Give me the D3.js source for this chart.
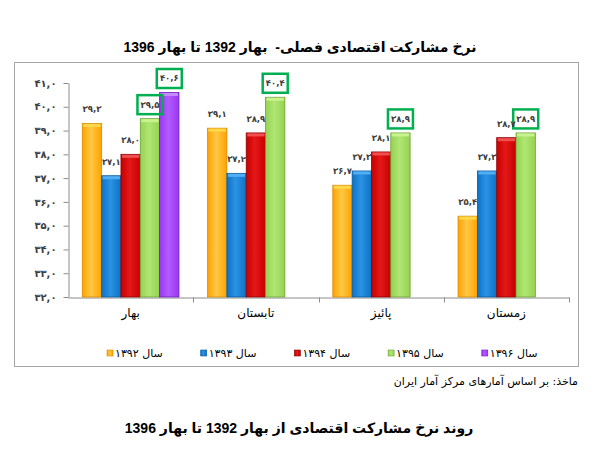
<!DOCTYPE html>
<html>
<head>
<meta charset="utf-8">
<script src="https://cdn.jsdelivr.net/npm/d3@7/dist/d3.min.js"></script>
<style>
  body { margin: 0; background: #fff; }
  svg { display: block; font-family: "Liberation Sans", "DejaVu Sans", sans-serif; }
</style>
</head>
<body>
<div id="chart"></div>
<script>
// data
const categories = ["بهار", "تابستان", "پائیز", "زمستان"];
const seriesNames = ["سال ۱۳۹۲", "سال ۱۳۹۳", "سال ۱۳۹۴", "سال ۱۳۹۵", "سال ۱۳۹۶"];
const values1392 = [39.3, 39.1, 36.7, 35.4];
const values1393 = [37.1, 37.2, 37.3, 37.3];
const values1394 = [38.0, 38.9, 38.1, 38.7];
const values1395 = [39.5, 40.4, 38.9, 38.9];
const values1396 = [40.6, null, null, null];
const yTicks = [32, 33, 34, 35, 36, 37, 38, 39, 40, 41];
const boxedSeries = ["سال ۱۳۹۵", "سال ۱۳۹۶"];

const title = "نرخ مشارکت اقتصادی فصلی-  بهار 1392 تا بهار 1396";
const source = "ماخذ: بر اساس آمارهای مرکز آمار ایران";
const caption = "روند نرخ مشارکت اقتصادی از بهار 1392 تا بهار 1396";

const seriesValues = [values1392, values1393, values1394, values1395, values1396];

const colors = {
  "سال ۱۳۹۲": { body: "#ffa200", light: "#ffc845", cap: "#ffd84a", edge: "#d98a00" },
  "سال ۱۳۹۳": { body: "#0b72c6", light: "#2b92e4", cap: "#52aef2", edge: "#085a9e" },
  "سال ۱۳۹۴": { body: "#c80000", light: "#e41818", cap: "#f05050", edge: "#8e0000" },
  "سال ۱۳۹۵": { body: "#96d253", light: "#b0e673", cap: "#c9f38e", edge: "#6ea336" },
  "سال ۱۳۹۶": { body: "#9a36f2", light: "#b25cff", cap: "#c68cff", edge: "#6e1cc0" }
};

const faDigits = "۰۱۲۳۴۵۶۷۸۹";
function toFa(v) {
  return v.toFixed(1).replace(".", ",").replace(/\d/g, d => faDigits[+d]);
}

const width = 610, height = 470;
const svg = d3.select("#chart").append("svg")
  .attr("width", width)
  .attr("height", height);

const defs = svg.append("defs");
seriesNames.forEach((s, i) => {
  const c = colors[s];
  const g = defs.append("linearGradient")
    .attr("id", "grad" + i)
    .attr("x1", "0%").attr("x2", "100%").attr("y1", "0%").attr("y2", "0%");
  g.append("stop").attr("offset", "0%").attr("stop-color", c.body);
  g.append("stop").attr("offset", "45%").attr("stop-color", c.light);
  g.append("stop").attr("offset", "100%").attr("stop-color", c.body);
});

// outer frame
svg.append("rect")
  .attr("x", 14.5).attr("y", 62.5)
  .attr("width", 564).attr("height", 304)
  .attr("fill", "none")
  .attr("stroke", "#a6a6a6")
  .attr("stroke-width", 1);

svg.append("text")
  .attr("x", 300).attr("y", 52)
  .attr("text-anchor", "middle")
  .attr("font-size", "14px")
  .attr("font-weight", "bold")
  .attr("fill", "#000")
  .style("white-space", "pre")
  .text(title);

const x = d3.scaleBand()
  .domain(categories)
  .range([68, 569])
  .paddingInner(0)
  .paddingOuter(0);

const xs = d3.scaleBand()
  .domain(seriesNames)
  .range([0, x.bandwidth()])
  .paddingInner(0)
  .paddingOuter(0.74);

const y = d3.scaleLinear()
  .domain([32, 41])
  .range([297, 83]);

// y axis
const yAxis = svg.append("g")
  .attr("transform", "translate(68.5,0)")
  .call(d3.axisLeft(y).tickValues(yTicks).tickFormat(toFa).tickSize(5).tickSizeOuter(0));
yAxis.select(".domain").attr("stroke", "#8c8c8c");
yAxis.selectAll(".tick line").attr("stroke", "#8c8c8c");
yAxis.selectAll(".tick text")
  .attr("x", -12)
  .attr("font-size", "10px")
  .attr("font-weight", "bold")
  .attr("fill", "#404040")
  .attr("font-family", "DejaVu Sans, sans-serif");

// x axis
const xAxis = svg.append("g")
  .attr("transform", "translate(0,297.5)")
  .call(d3.axisBottom(x).tickSize(0).tickSizeOuter(0).tickPadding(11));
xAxis.select(".domain").attr("stroke", "#8c8c8c");
xAxis.selectAll(".tick text")
  .attr("font-size", "12px")
  .attr("fill", "#000")
  .attr("font-family", "DejaVu Sans, sans-serif");

const boundaries = categories.map(c => x(c) + x.bandwidth());
xAxis.selectAll("line.sep")
  .data(boundaries)
  .join("line")
  .attr("class", "sep")
  .attr("x1", d => Math.round(d) + 0.5).attr("x2", d => Math.round(d) + 0.5)
  .attr("y1", 0).attr("y2", 5)
  .attr("stroke", "#8c8c8c");

// bars
const flat = [];
categories.forEach((c, ci) => {
  seriesNames.forEach((s, si) => {
    const v = seriesValues[si][ci];
    if (v != null) flat.push({ cat: c, series: s, si: si, value: v });
  });
});

const bars = svg.append("g").selectAll("g")
  .data(flat)
  .join("g");

bars.append("rect")
  .attr("x", d => x(d.cat) + xs(d.series))
  .attr("y", d => y(d.value))
  .attr("width", xs.bandwidth())
  .attr("height", d => y(32) - y(d.value))
  .attr("fill", d => `url(#grad${d.si})`)
  .attr("stroke", d => colors[d.series].edge)
  .attr("stroke-width", 0.8);

bars.append("rect")
  .attr("x", d => x(d.cat) + xs(d.series) + 1)
  .attr("y", d => y(d.value) + 0.5)
  .attr("width", xs.bandwidth() - 2)
  .attr("height", 3)
  .attr("fill", d => colors[d.series].cap);

// data labels: highlight boxes underneath, then the numbers
const labelX = d => x(d.cat) + xs(d.series) + xs.bandwidth() / 2;
const labelY = d => y(d.value) - 14;

svg.append("g").selectAll("rect")
  .data(flat.filter(d => boxedSeries.includes(d.series)))
  .join("rect")
  .attr("x", d => labelX(d) - 12.5)
  .attr("y", d => labelY(d) - 9.5)
  .attr("width", 25).attr("height", 19)
  .attr("fill", "none")
  .attr("stroke", "#00b050")
  .attr("stroke-width", 2.5);

svg.append("g").selectAll("text")
  .data(flat)
  .join("text")
  .attr("x", labelX)
  .attr("y", labelY)
  .attr("text-anchor", "middle")
  .attr("dy", "0.35em")
  .attr("font-size", "8.5px")
  .attr("font-weight", "bold")
  .attr("letter-spacing", "-0.3px")
  .attr("fill", "#404040")
  .attr("font-family", "DejaVu Sans, sans-serif")
  .text(d => toFa(d.value));

// legend
const legend = svg.append("g").selectAll("g")
  .data(seriesNames)
  .join("g")
  .attr("transform", (d, i) => `translate(${107 + i * 93.7},353)`);

legend.append("rect")
  .attr("x", 0).attr("y", -3)
  .attr("width", 6).attr("height", 6)
  .attr("fill", (d, i) => `url(#grad${i})`)
  .attr("stroke", d => colors[d].edge)
  .attr("stroke-width", 0.6);

legend.append("text")
  .attr("x", 8)
  .attr("dy", "0.35em")
  .attr("font-size", "11px")
  .attr("fill", "#000")
  .attr("font-family", "DejaVu Sans, sans-serif")
  .text(d => d);

svg.append("text")
  .attr("x", 578).attr("y", 385)
  .attr("text-anchor", "end")
  .attr("font-size", "11px")
  .attr("fill", "#000")
  .attr("font-family", "DejaVu Sans, sans-serif")
  .text(source);

svg.append("text")
  .attr("x", 299).attr("y", 433)
  .attr("text-anchor", "middle")
  .attr("font-size", "14px")
  .attr("font-weight", "bold")
  .attr("fill", "#000")
  .text(caption);
</script>
</body>
</html>
